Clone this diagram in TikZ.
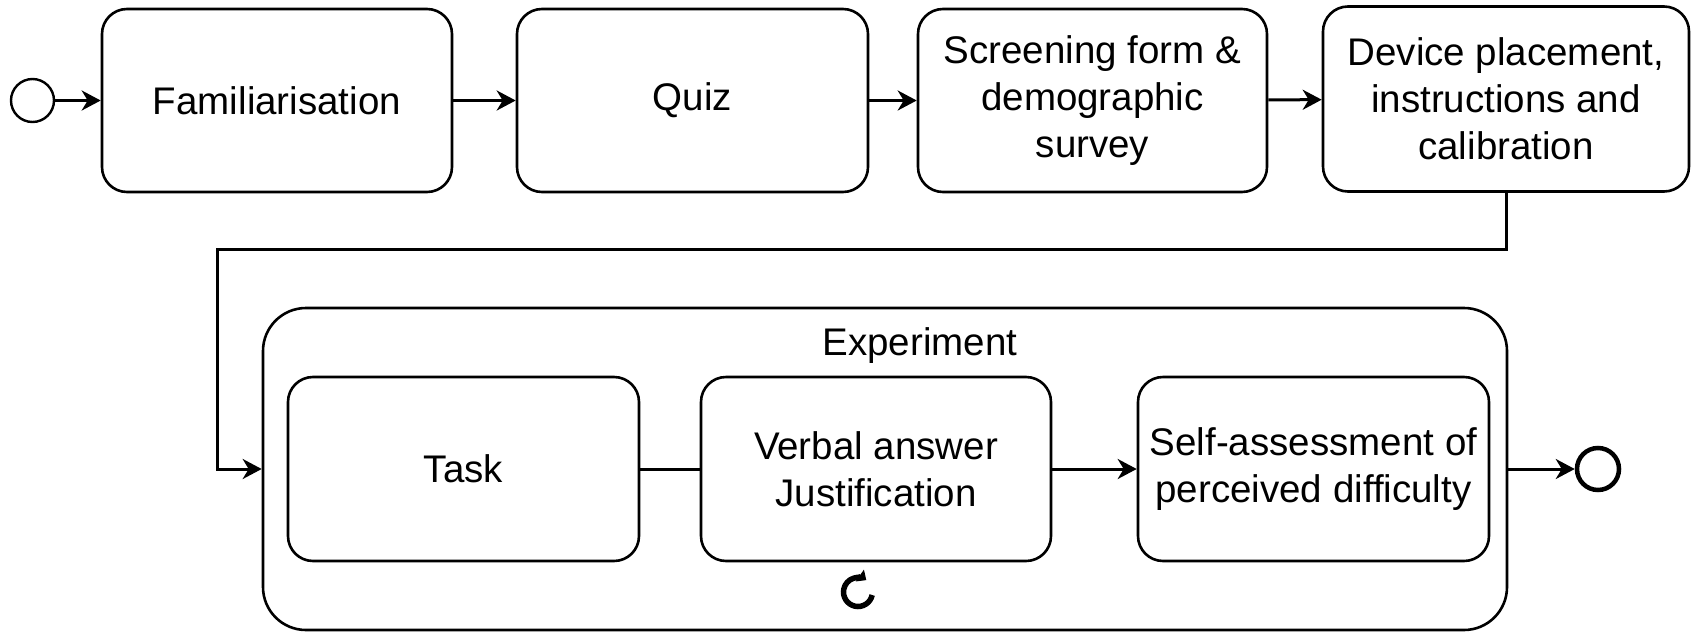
\documentclass[tikz,border=0pt]{standalone}
\usepackage{fontspec}
\setmainfont{Liberation Sans}
\usetikzlibrary{arrows.meta}
\begin{document}
\begin{tikzpicture}[x=1pt,y=-1pt,
  stepbox/.style={draw, line width=2.6pt, rounded corners=25pt, inner sep=0pt,
    align=center, font=\fontsize{38.5}{47}\selectfont},
  container/.style={draw, line width=2.6pt, rounded corners=43pt, inner sep=0pt},
  arr/.style={line width=3pt, -{Stealth[length=19pt,width=20pt,inset=6pt]}},
  plain/.style={line width=3pt},
  event/.style={draw, circle, inner sep=0pt, minimum size=43pt}
]
\useasboundingbox (0,0) rectangle (1701,643);
% top row
\node[event, line width=2.4pt] (start) at (32.5,100.5) {};
\node[stepbox, minimum width=350pt, minimum height=183pt] (fam) at (277,100.5) {Familiarisation};
\node[stepbox, minimum width=351pt, minimum height=183pt] (quiz) at (692.5,100.5) {Quiz};
\node[stepbox, minimum width=349pt, minimum height=183pt] (scr) at (1092.5,100.5) {Screening form \&\\demographic\\survey};
\node[stepbox, minimum width=366pt, minimum height=185pt] (dev) at (1506,99) {Device placement,\\instructions and\\calibration};
% experiment container
\node[container, minimum width=1244pt, minimum height=322pt] (exp) at (885,469) {};
\node[font=\fontsize{38.5}{47}\selectfont, inner sep=0pt, anchor=base] (exptitle) at (920,355) {Experiment};
\node[stepbox, minimum width=351pt, minimum height=184pt] (task) at (463.5,469) {Task};
\node[stepbox, minimum width=350pt, minimum height=184pt] (verb) at (876,469) {Verbal answer\\Justification};
\node[stepbox, minimum width=351pt, minimum height=184pt] (self) at (1313.5,469) {Self-assessment of\\perceived difficulty};
\node[event, line width=4.5pt, minimum size=42pt] (end) at (1598,469) {};
% loop marker
\coordinate (loopc) at (858,592);
\begin{scope}[shift={(loopc)}, x=1pt, y=1pt]
  \draw[line width=5.5pt, -{Triangle[length=8pt,width=14pt]}] (-12:14.5) arc[start angle=-12, end angle=-305, radius=14.5];
\end{scope}
% connectors
\coordinate (c1) at (217,249);
\draw[arr] (start) -- (fam);
\draw[arr] (fam) -- (quiz);
\draw[arr] (quiz) -- (scr);
\draw[arr] (scr) -- (dev);
\draw[arr] (dev.south) |- (c1) |- (exp.west);
\draw[plain] (task) -- (verb);
\draw[arr] (verb) -- (self);
\draw[arr] (exp.east) -- (end);
\end{tikzpicture}
\end{document}
